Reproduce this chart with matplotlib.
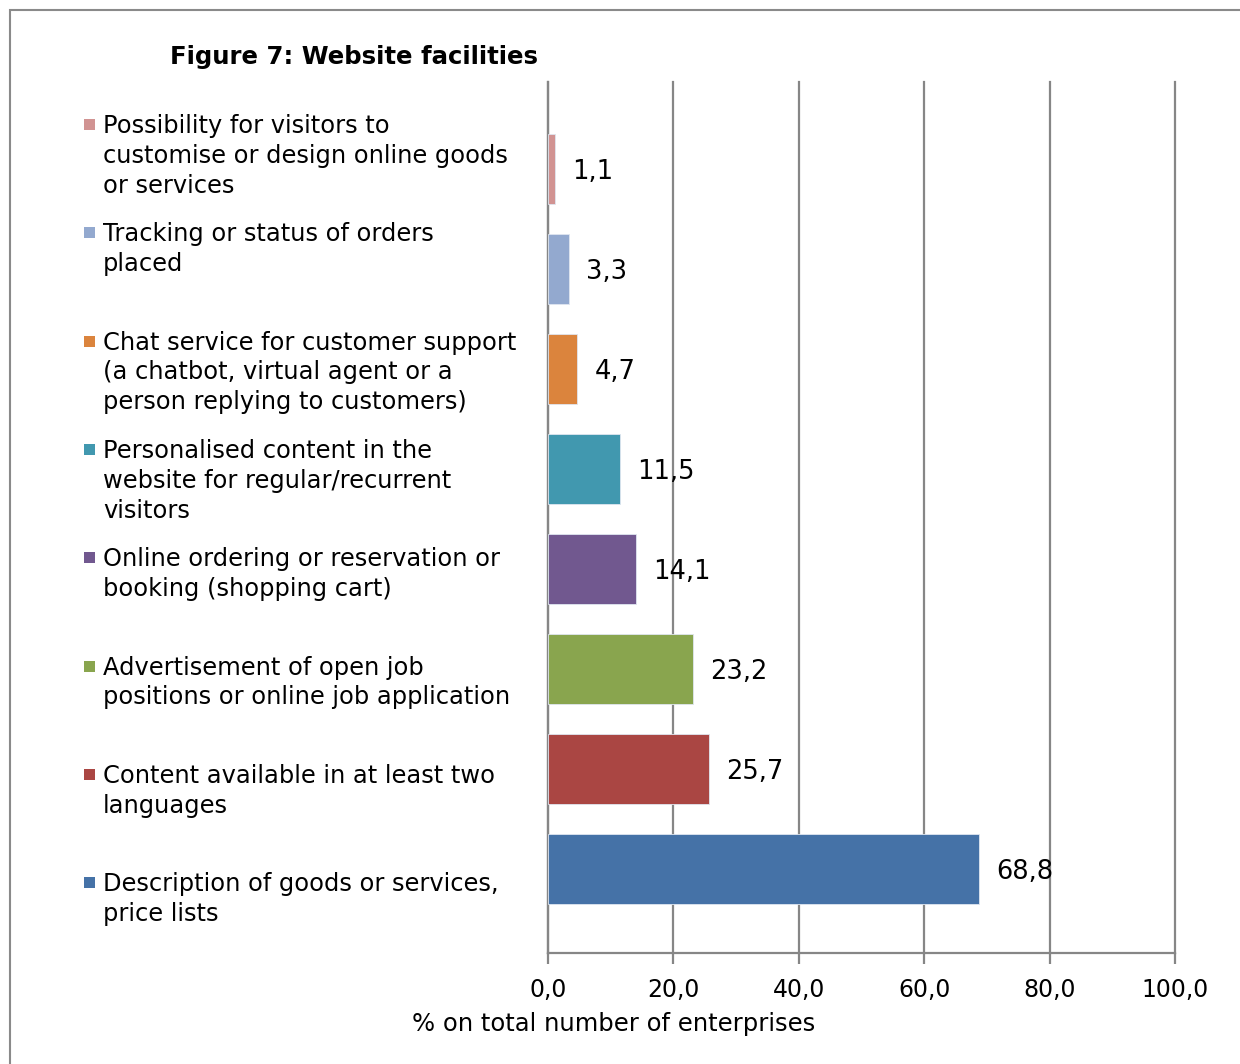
import matplotlib
matplotlib.use("Agg")
import matplotlib.pyplot as plt
from matplotlib.patches import Rectangle

categories = [
    "Description of goods or services,\nprice lists",
    "Content available in at least two\nlanguages",
    "Advertisement of open job\npositions or online job application",
    "Online ordering or reservation or\nbooking (shopping cart)",
    "Personalised content in the\nwebsite for regular/recurrent\nvisitors",
    "Chat service for customer support\n(a chatbot, virtual agent or a\nperson replying to customers)",
    "Tracking or status of orders\nplaced",
    "Possibility for visitors to\ncustomise or design online goods\nor services",
]
values = [68.8, 25.7, 23.2, 14.1, 11.5, 4.7, 3.3, 1.1]
colors = ["#4572A7", "#AA4643", "#89A54E", "#71588F", "#4198AF", "#DB843D", "#93A9CF", "#D19392"]
xticks = [0, 20, 40, 60, 80, 100]

W, H = 1240, 1064
fig = plt.figure(figsize=(W / 100, H / 100), dpi=100)
plt.rcParams['font.family'] = ['DejaVu Sans']

# outer frame
fig.patches.append(Rectangle((10 / W, -0.1), 1.2, (H - 10) / H + 0.1, transform=fig.transFigure,
                             fill=False, edgecolor="#8a8a8a", linewidth=1.5))

x0, x1 = 548, 1175
y_top, y_bot = 82, 953
ax = fig.add_axes([x0 / W, 1 - y_bot / H, (x1 - x0) / W, (y_bot - y_top) / H])
ypos = list(range(len(values)))
ax.barh(ypos, values, height=0.7, color=colors, edgecolor="#dfe6f0", linewidth=0.6, zorder=3)
ax.set_xlim(0, 100)
ax.set_ylim(-0.84, 7.87)
ax.set_xticks(xticks)
ax.set_xticklabels([f"{t:.1f}".replace(".", ",") for t in xticks], fontsize=17)
ax.set_yticks([])
ax.grid(axis="x", color="#868686", linewidth=1.6, zorder=0)
for gl in ax.get_xgridlines():
    gl.set_clip_on(False)
for s in ["top", "right"]:
    ax.spines[s].set_visible(False)
ax.spines["left"].set_color("#868686")
ax.spines["left"].set_linewidth(1.6)
ax.spines["bottom"].set_color("#868686")
ax.spines["bottom"].set_linewidth(1.6)
ax.tick_params(axis="x", direction="out", length=8, width=1.6, color="#868686", pad=10)

for y, v in zip(ypos, values):
    ax.text(v + 2.7, y - 0.025, f"{v:.1f}".replace(".", ","), va="center", ha="left",
            fontsize=18.5, zorder=4)

# legend-like labels
first_y = 124
step = 108.3
for i, (lab, col) in enumerate(zip(categories[::-1], colors[::-1])):
    yc = first_y + i * step
    fig.text(103 / W, 1 - (yc - 10) / H, lab, ha="left", va="top", fontsize=17.4,
             linespacing=1.31)
    fig.patches.append(Rectangle((84 / W, 1 - (yc + 6) / H), 11 / W, 11 / H,
                                 transform=fig.transFigure, facecolor=col, edgecolor="none"))

fig.text(170 / W, 1 - 57 / H, "Figure 7: Website facilities", ha="left", va="center",
         fontsize=17.6, fontweight="bold")
fig.text(614 / W, 1 - 1024 / H, "% on total number of enterprises", ha="center", va="center",
         fontsize=17.5)

fig.savefig("out.png", dpi=100)
